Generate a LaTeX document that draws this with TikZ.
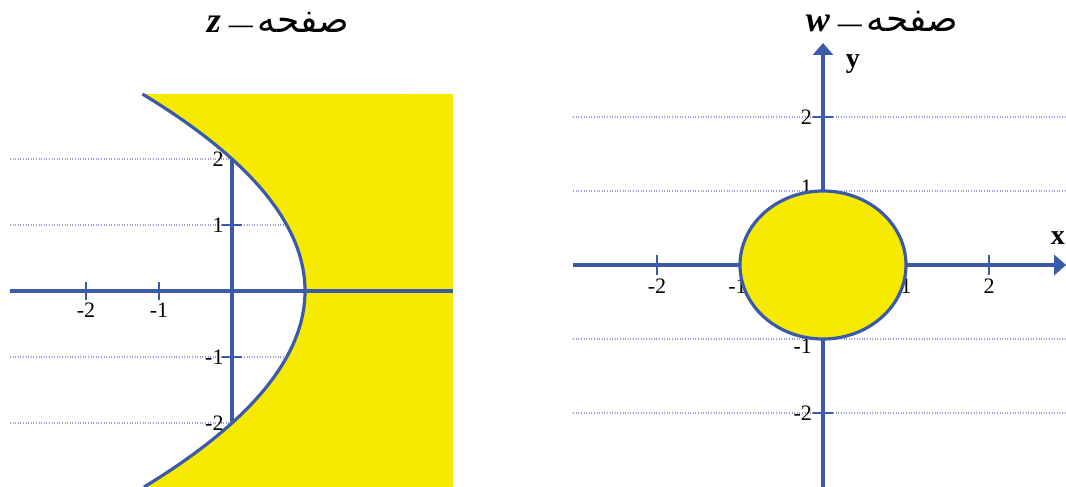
\documentclass[tikz,border=0pt]{standalone}
\usepackage{fontspec}
\setmainfont{Liberation Serif}
\newfontfamily\arabicfont[Script=Arabic]{DejaVu Sans}
\TeXXeTstate=1
\usetikzlibrary{arrows.meta}
\definecolor{axisblue}{RGB}{60,90,170}
\definecolor{fillyellow}{RGB}{245,234,0}
\definecolor{gridblue}{RGB}{155,155,220}
\newcommand{\zlet}[1]{{\fontsize{36}{36}\selectfont\bfseries\itshape #1}}
\newcommand{\fatitle}{{\fontsize{36}{36}\selectfont\arabicfont\beginR صفحه\endR}}
\newcommand{\tdash}{\hspace{8pt}{\fontsize{24}{24}\selectfont\bfseries —}\hspace{5pt}}
\tikzset{
  axisline/.style={axisblue, line width=3.5pt},
  arrowaxis/.style={axisblue, line width=3.5pt, -{Triangle[length=12pt,width=20pt]}},
  tickline/.style={axisblue, line width=1.8pt},
  gridline/.style={gridblue, line width=1.5pt, dash pattern=on 1pt off 1.6pt},
  curve/.style={axisblue, line width=3.2pt},
  ticklabel/.style={font=\fontsize{22}{22}\selectfont, inner sep=1pt},
  axislabel/.style={font=\fontsize{28}{28}\selectfont\bfseries, inner sep=0pt},
  titlelabel/.style={font=\fontsize{22}{24}\selectfont, inner sep=0pt},
}
\begin{document}
\begin{tikzpicture}
\useasboundingbox (0pt,0pt) rectangle (1066pt,-487pt);
% titles
\node[titlelabel] (ztitle) at (278pt,-22pt) {\zlet{z}\tdash\fatitle};
\node[titlelabel] (wtitle) at (882pt,-22pt) {\zlet{w}\tdash\fatitle};
% ---------------- z-plane ----------------
\begin{scope}[shift={(232pt,-291pt)}, x=73pt, y=66pt]
  \foreach \g in {-2,-1,1,2} \draw[gridline] (-3.04,\g) -- (1.5,\g);
  \draw[axisline] (0,-2.9) -- (0,2.9);
  \foreach \g in {-1,1} \draw[tickline] (-0.14,\g) -- (0.14,\g);
  \fill[fillyellow] plot[domain=-2.97:2.985, samples=120] ({1-\x*\x/4},\x) -- (3.027,2.985) -- (3.027,-2.97) -- cycle;
  \draw[curve] plot[domain=-2.97:2.985, samples=120] ({1-\x*\x/4},\x);
  \draw[axisline] (-3.04,0) -- (3.027,0);
  \foreach \g in {-2,-1} \draw[tickline] (\g,-0.14) -- (\g,0.14);
  \node[ticklabel, anchor=north] (zxm2) at (-2,-0.17) {-2};
  \node[ticklabel, anchor=north] (zxm1) at (-1,-0.17) {-1};
  \node[ticklabel, anchor=east] (zy2) at (-0.1,2) {2};
  \node[ticklabel, anchor=east] (zy1) at (-0.1,1) {1};
  \node[ticklabel, anchor=east] (zym1) at (-0.1,-1) {-1};
  \node[ticklabel, anchor=east] (zym2) at (-0.1,-2) {-2};
\end{scope}
% ---------------- w-plane ----------------
\begin{scope}[shift={(823pt,-265pt)}, x=83pt, y=74pt]
  \foreach \g in {-2,-1,1,2} \draw[gridline] (-3.01,\g) -- (2.93,\g);
  \draw[arrowaxis] (-3.01,0) -- (2.93,0);
  \draw[arrowaxis] (0,-3.0) -- (0,3.0);
  \foreach \g in {-2,-1,1,2} \draw[tickline] (\g,-0.135) -- (\g,0.135);
  \foreach \g in {-2,-1,1,2} \draw[tickline] (-0.12,\g) -- (0.12,\g);
  \node[ticklabel, anchor=north] (wxm2) at (-2,-0.17) {-2};
  \node[ticklabel, anchor=north] (wxm1) at (-1.03,-0.17) {-1};
  \node[ticklabel, anchor=north] (wx1) at (1,-0.17) {1};
  \node[ticklabel, anchor=north] (wx2) at (2,-0.17) {2};
  \node[ticklabel, anchor=east] (wy2) at (-0.12,2) {2};
  \node[ticklabel, anchor=east] (wy1) at (-0.12,1.05) {1};
  \node[ticklabel, anchor=east] (wym1) at (-0.12,-1.1) {-1};
  \node[ticklabel, anchor=east] (wym2) at (-0.12,-2) {-2};
  \filldraw[fill=fillyellow, draw=axisblue, line width=3.2pt] (0,0) ellipse [x radius=83pt, y radius=74pt];
  \node[axislabel] (xlab) at (2.83,0.37) {x};
  \node[axislabel] (ylab) at (0.36,2.72) {y};
\end{scope}
\end{tikzpicture}
\end{document}
